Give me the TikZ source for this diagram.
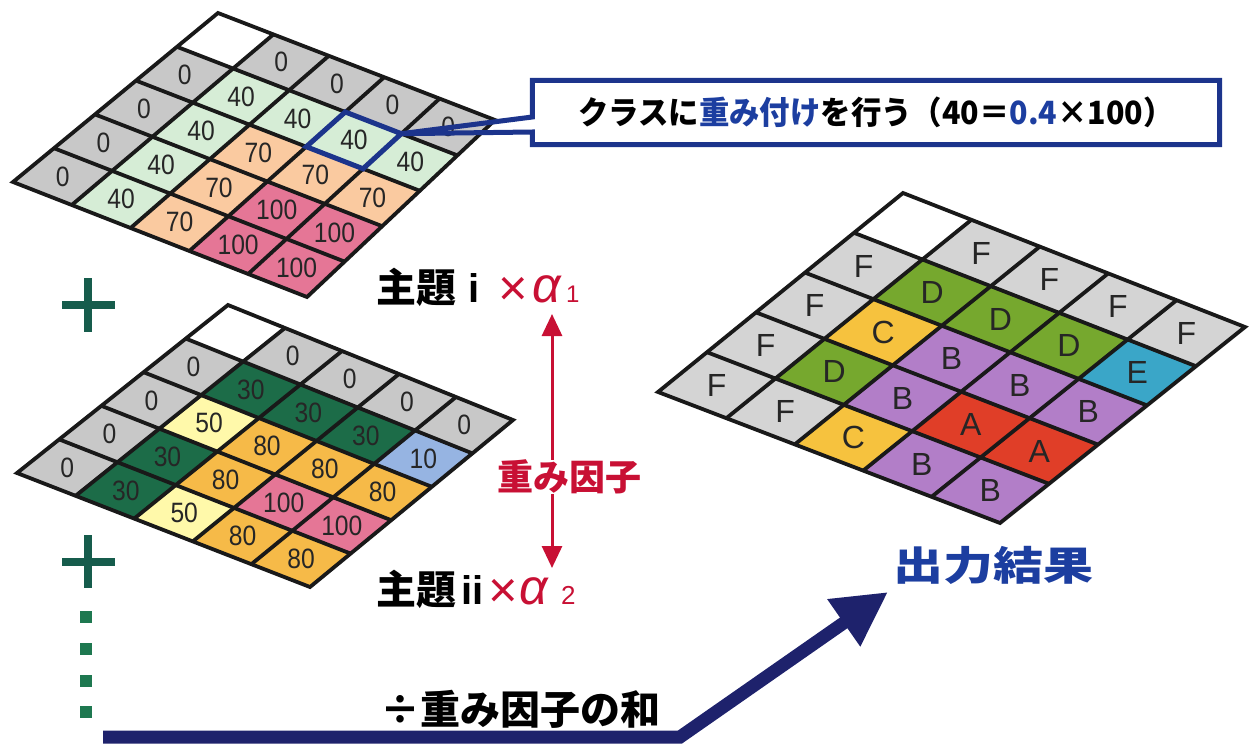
\documentclass[tikz,border=0pt]{standalone}
\usepackage{fontspec}
\setmainfont{Liberation Sans}
\newfontfamily\jp{Noto Sans CJK JP}
\newfontfamily\numf[FakeStretch=0.88]{Liberation Sans}
\newfontfamily\sansf{Liberation Sans}
\usetikzlibrary{arrows.meta}
\definecolor{cgray}{RGB}{200,200,200}
\definecolor{clg}{RGB}{214,237,214}
\definecolor{cpe}{RGB}{250,202,160}
\definecolor{cpk}{RGB}{229,118,150}
\definecolor{cdg}{RGB}{28,108,72}
\definecolor{cly}{RGB}{255,249,170}
\definecolor{cor}{RGB}{246,186,72}
\definecolor{cbl}{RGB}{150,180,226}
\definecolor{cfg}{RGB}{212,212,212}
\definecolor{cdd}{RGB}{118,168,46}
\definecolor{ccc}{RGB}{246,194,62}
\definecolor{cbb}{RGB}{178,126,200}
\definecolor{caa}{RGB}{224,62,40}
\definecolor{cee}{RGB}{58,166,200}
\definecolor{cred}{RGB}{200,16,52}
\definecolor{cnavy}{RGB}{28,52,140}
\definecolor{cdnavy}{RGB}{30,34,108}
\definecolor{ctxtblue}{RGB}{28,62,160}
\definecolor{cteal}{RGB}{22,92,76}
\definecolor{cdots}{RGB}{30,120,80}
\newcommand{\fs}[1]{\fontsize{#1}{#1}\selectfont}
% grid: name, Tx,Ty, Rx,Ry, Lx,Ly, Bx,By (bilinear)
\newcommand{\mkgrid}[9]{%
  \foreach \i in {0,...,5}{%
    \foreach \j in {0,...,5}{%
      \pgfmathsetmacro\gx{(1-\j/5)*((1-\i/5)*#2+\i/5*#4)+\j/5*((1-\i/5)*#6+\i/5*#8)}%
      \pgfmathsetmacro\gy{(1-\j/5)*((1-\i/5)*#3+\i/5*#5)+\j/5*((1-\i/5)*#7+\i/5*#9)}%
      \coordinate (#1-\i-\j) at (\gx,\gy);%
    }%
  }%
  \foreach \i in {0,...,4}{%
    \foreach \j in {0,...,4}{%
      \pgfmathsetmacro\ga{(\i+0.5)/5}%
      \pgfmathsetmacro\gb{(\j+0.5)/5}%
      \pgfmathsetmacro\gx{(1-\gb)*((1-\ga)*#2+\ga*#4)+\gb*((1-\ga)*#6+\ga*#8)}%
      \pgfmathsetmacro\gy{(1-\gb)*((1-\ga)*#3+\ga*#5)+\gb*((1-\ga)*#7+\ga*#9)}%
      \coordinate (#1-c-\i-\j) at (\gx,\gy);%
    }%
  }%
}
\newcommand{\cellrow}[4]{%
  \foreach \cellc/\cellt [count=\n from 0] in {#4}{%
    \pgfmathtruncatemacro\ni{\n+1}%
    \pgfmathtruncatemacro\nj{#2+1}%
    \fill[\cellc] (#1-\n-#2) -- (#1-\ni-#2) -- (#1-\ni-\nj) -- (#1-\n-\nj) -- cycle;
    \node[#3] (#1-t-\n-#2) at (#1-c-\n-#2) {\cellt};
  }%
}
\newcommand{\gridlines}[1]{%
  \foreach \k in {1,...,4}{%
    \draw[gridline] (#1-\k-0) -- (#1-\k-5);
    \draw[gridline] (#1-0-\k) -- (#1-5-\k);
  }%
  \draw[gridline] (#1-0-0) -- (#1-5-0) -- (#1-5-5) -- (#1-0-5) -- cycle;
}
\newcommand{\redtimes}{{\sansf\mdseries\color{cred}\fs{44}\raisebox{-3pt}{\scalebox{1.15}{×}}}}
\newcommand{\redalpha}{{\sansf\mdseries\itshape\color{cred}\fs{50}α}}
\begin{document}
\begin{tikzpicture}[x=1pt,y=-1pt,
  gridline/.style={line width=3.8pt, black!90, line join=miter},
  numtxt/.style={inner sep=0, font=\numf\fs{28}, text=black!85},
  lettxt/.style={inner sep=0, font=\sansf\fs{32}, text=black!85},
  jplabel/.style={inner sep=0, font=\jp\bfseries},
  plusmark/.style={cteal, line width=8pt},
  redarrow/.style={cred, line width=3pt, -{Triangle[length=22pt,width=20pt]}},
  bigarrow/.style={cdnavy, line width=13pt, line join=miter, -{Triangle[length=54pt,width=54pt]}},
  calloutline/.style={cnavy, line width=5pt, line join=miter}]
\useasboundingbox (0,0) rectangle (1252,744);

% ---------- grid a (theme i) ----------
\mkgrid{a}{218}{13}{495}{120}{13}{182}{307}{297}
\cellrow{a}{0}{numtxt}{white/{},cgray/0,cgray/0,cgray/0,cgray/0}
\cellrow{a}{1}{numtxt}{cgray/0,clg/40,clg/40,clg/40,clg/40}
\cellrow{a}{2}{numtxt}{cgray/0,clg/40,cpe/70,cpe/70,cpe/70}
\cellrow{a}{3}{numtxt}{cgray/0,clg/40,cpe/70,cpk/100,cpk/100}
\cellrow{a}{4}{numtxt}{cgray/0,clg/40,cpe/70,cpk/100,cpk/100}
\gridlines{a}
\draw[calloutline] (a-3-1) -- (a-4-1) -- (a-4-2) -- (a-3-2) -- cycle;

% ---------- grid b (theme ii) ----------
\mkgrid{b}{228}{305}{513}{420}{17}{473}{310}{587}
\cellrow{b}{0}{numtxt}{white/{},cgray/0,cgray/0,cgray/0,cgray/0}
\cellrow{b}{1}{numtxt}{cgray/0,cdg/30,cdg/30,cdg/30,cbl/10}
\cellrow{b}{2}{numtxt}{cgray/0,cly/50,cor/80,cor/80,cor/80}
\cellrow{b}{3}{numtxt}{cgray/0,cdg/30,cor/80,cpk/100,cpk/100}
\cellrow{b}{4}{numtxt}{cgray/0,cdg/30,cly/50,cor/80,cor/80}
\gridlines{b}

% ---------- grid c (result) ----------
\mkgrid{c}{903}{193}{1245}{327}{658}{392}{1000}{523}
\cellrow{c}{0}{lettxt}{white/{},cfg/F,cfg/F,cfg/F,cfg/F}
\cellrow{c}{1}{lettxt}{cfg/F,cdd/D,cdd/D,cdd/D,cee/E}
\cellrow{c}{2}{lettxt}{cfg/F,ccc/C,cbb/B,cbb/B,cbb/B}
\cellrow{c}{3}{lettxt}{cfg/F,cdd/D,cbb/B,caa/A,caa/A}
\cellrow{c}{4}{lettxt}{cfg/F,cfg/F,ccc/C,cbb/B,cbb/B}
\gridlines{c}

% ---------- callout ----------
\node[inner sep=0, minimum width=687pt, minimum height=64pt, font=\jp\bfseries\fs{32}] (callout) at (876,112.5)
  {\scalebox{0.95}[1]{クラスに{\color{ctxtblue}重み付け}を行う（40＝{\color{ctxtblue}0.4}×100）}};
\draw[calloutline] (a-4-1) -- ([yshift=-4.5pt]callout.west) -- (callout.north west) -- (callout.north east)
  -- (callout.south east) -- (callout.south west) -- ([yshift=-19.5pt]callout.west) -- (a-4-1);

% ---------- labels ----------
\node[jplabel, anchor=base west, font=\jp\bfseries\fs{40}] (themeA) at (376,302)
  {\makebox[92pt][l]{主題}\makebox[30pt][l]{\sansf i}\makebox[34pt][l]{\redtimes}\makebox[34pt][l]{\redalpha}{\sansf\mdseries\color{cred}\fs{24}1}};
\node[jplabel, anchor=base west, font=\jp\bfseries\fs{40}] (themeB) at (376,604)
  {\makebox[85pt][l]{主題}\makebox[27pt][l]{\sansf ii}\makebox[31pt][l]{\redtimes}\makebox[42pt][l]{\redalpha}{\sansf\mdseries\color{cred}\fs{26}2}};
\node[jplabel, font=\jp\bfseries\fs{36}, text=cred] (wf) at (569,477) {重み因子};
\coordinate (upTip) at (552,314);
\coordinate (dnTip) at (552,568);
\draw[redarrow] (wf.north -| upTip) -- (upTip);
\draw[redarrow] (wf.south -| dnTip) -- (dnTip);

\node[jplabel, font=\jp\bfseries\fs{40}, text=ctxtblue] (out) at (993,565) {\scalebox{1.25}[1]{出力結果}};
\node[jplabel, font=\jp\bfseries\fs{40}] (divsum) at (520,709) {÷重み因子の和};

% ---------- plus signs and continuation dots ----------
\draw[plusmark] (62,305) -- (115,305) (88,278) -- (88,332);
\draw[plusmark] (62,562) -- (115,562) (88,535) -- (88,588);
\foreach \yy in {617,649,681,712} \fill[cdots] (80,\yy-6) rectangle (92,\yy+6);

% ---------- big arrow ----------
\coordinate (arrStart) at (103,737);
\coordinate (arrBend) at (680,737);
\coordinate (arrTip) at (888,592);
\draw[bigarrow] (arrStart) -- (arrBend) -- (arrTip);
\end{tikzpicture}
\end{document}
